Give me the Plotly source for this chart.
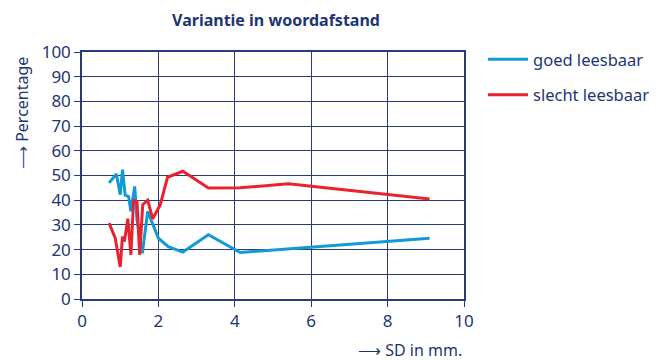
import plotly.graph_objects as go

# data
goed_x = [0.71, 0.90, 1.00, 1.06, 1.13, 1.22, 1.28, 1.38, 1.44, 1.58, 1.72, 2.00, 2.26, 2.64, 3.31, 4.14, 9.10]
goed_y = [47.0, 50.6, 42.2, 52.4, 42.0, 41.5, 35.5, 45.6, 32.0, 18.5, 35.5, 24.6, 21.2, 19.0, 26.0, 18.8, 24.6]

slecht_x = [0.71, 0.87, 1.00, 1.06, 1.11, 1.20, 1.28, 1.35, 1.44, 1.51, 1.59, 1.72, 1.85, 2.05, 2.24, 2.64, 3.31, 4.14, 5.40, 9.10]
slecht_y = [30.7, 24.6, 13.0, 25.3, 23.3, 32.5, 17.9, 39.8, 39.5, 17.9, 38.2, 40.0, 32.5, 38.2, 49.3, 51.7, 44.9, 45.0, 46.7, 40.5]

x_ticks = [0, 2, 4, 6, 8, 10]
y_ticks = [0, 10, 20, 30, 40, 50, 60, 70, 80, 90, 100]

NAVY = "#1e3575"
GRID = "#2a3a78"
BLUE = "#139ad6"
RED = "#e8232d"
FONT = "Noto Sans"

fig = go.Figure()
fig.add_trace(go.Scatter(x=goed_x, y=goed_y, mode="lines", name="goed leesbaar",
                         line=dict(color=BLUE, width=3), legendgroup="a"))
fig.add_trace(go.Scatter(x=slecht_x, y=slecht_y, mode="lines", name="slecht leesbaar",
                         line=dict(color=RED, width=3), legendgroup="b"))

# page has an 8px body margin; figure is sized to fit the 670x360 window
W, H = 662, 352
L, T, R, B = 74, 44, 206, 61
PW, PH = W - L - R, H - T - B

fig.update_layout(
    width=W, height=H,
    margin=dict(l=L, r=R, t=T, b=B),
    paper_bgcolor="white", plot_bgcolor="white",
    font=dict(family=FONT, color=NAVY, size=16),
    title=dict(text="<b>Variantie in woordafstand</b>", x=(276 - 8) / W, xanchor="center",
               y=1 - 12 / H, yanchor="middle", font=dict(size=16, color=NAVY, family=FONT)),
    legend=dict(x=(475 - L) / PW, xref="paper", y=(T + PH - 34) / PH, yanchor="top", xanchor="left",
                font=dict(size=16.5, color=NAVY), tracegroupgap=11,
                bgcolor="rgba(0,0,0,0)", itemwidth=40),
    showlegend=True,
)
fig.update_xaxes(range=[0, 10], tickvals=x_ticks, showgrid=True, gridcolor=GRID, gridwidth=1,
                 showline=True, linecolor=GRID, linewidth=1.5, mirror=True,
                 ticks="outside", ticklen=6, tickcolor=GRID, tickfont=dict(size=17, color=NAVY),
                 zeroline=False, fixedrange=True)
fig.update_yaxes(range=[0, 100], tickvals=y_ticks, showgrid=True, gridcolor=GRID, gridwidth=1,
                 showline=True, linecolor=GRID, linewidth=1.5, mirror=True,
                 ticks="outside", ticklen=6, tickcolor=GRID, tickfont=dict(size=17, color=NAVY),
                 zeroline=False, fixedrange=True)

fig.add_annotation(text="⟶ Percentage", textangle=-90, xref="paper", yref="paper",
                   x=(14 - L) / PW, y=(T + PH - 105) / PH, xanchor="center", yanchor="middle",
                   showarrow=False, font=dict(size=16, color=NAVY, family=FONT))
fig.add_annotation(text="⟶ SD in mm.", xref="paper", yref="paper",
                   x=1.0, y=-51 / PH, xanchor="right", yanchor="middle",
                   showarrow=False, font=dict(size=16, color=NAVY, family=FONT))

fig.write_html("out.html")
